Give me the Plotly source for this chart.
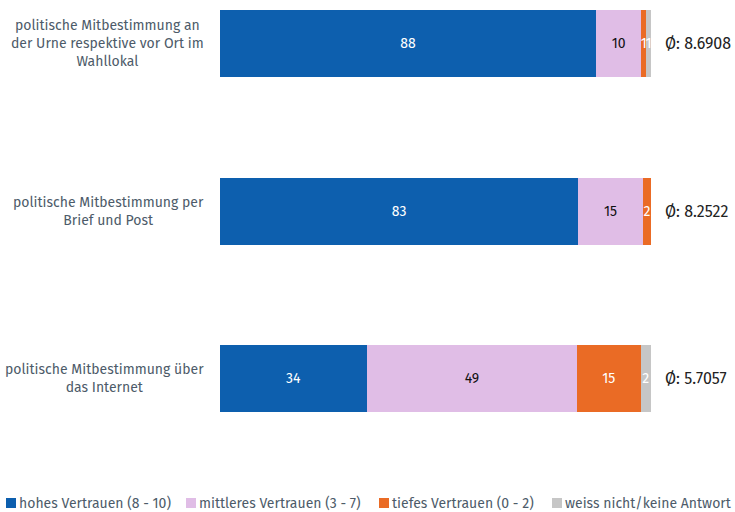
import plotly.graph_objects as go

categories = [
    "politische Mitbestimmung an<br>der Urne respektive vor Ort im<br>Wahllokal",
    "politische Mitbestimmung per<br>Brief und Post",
    "politische Mitbestimmung über<br>das Internet",
]
series_names = ["hohes Vertrauen (8 - 10)", "mittleres Vertrauen (3 - 7)",
                "tiefes Vertrauen (0 - 2)", "weiss nicht/keine Antwort"]
hohes = [87.3, 83.1, 34.1]
mittleres = [10.4, 15.0, 48.7]
tiefes = [1.2, 1.9, 14.8]
weiss = [1.1, 0.0, 2.4]
labels_hohes = ["88", "83", "34"]
labels_mittleres = ["10", "15", "49"]
labels_tiefes = ["1", "2", "15"]
labels_weiss = ["1", "", "2"]
averages = ["Ø: 8.6908", "Ø: 8.2522", "Ø: 5.7057"]

colors = ["#0d5fae", "#e0bde6", "#ea6b25", "#c6c6c6"]
text_colors = ["white", "#111111", "white", "white"]
values = [hohes, mittleres, tiefes, weiss]
labels = [labels_hohes, labels_mittleres, labels_tiefes, labels_weiss]

FONT = "Fira Sans, Noto Sans, sans-serif"
ypos = [0, 1, 2]

W, H = 735, 512
ML, MR, MT, MB = 220, 84, 0, 62
PW, PH = W - ML - MR, H - MT - MB


def px_x(px):
    return (px - ML) / PW


def px_y(py):
    return (PH - (py - MT)) / PH


fig = go.Figure()
for name, vals, labs, col, tc in zip(series_names, values, labels, colors, text_colors):
    fig.add_trace(go.Bar(
        y=ypos, x=vals, name=name, orientation="h",
        marker=dict(color=col, line=dict(width=0)),
        text=labs, textposition="inside", insidetextanchor="middle",
        constraintext="none", textangle=0,
        textfont=dict(color=tc, size=14, family=FONT),
        width=0.4, hoverinfo="skip", showlegend=False,
    ))

annotations = []
for i, c in enumerate(categories):
    annotations.append(dict(
        x=px_x(206), y=ypos[i], xref="paper", yref="y", text=c, showarrow=False,
        xanchor="right", yanchor="middle", align="center",
        font=dict(size=14, color="#4d5b69", family=FONT)))
    annotations.append(dict(
        x=px_x(663), y=ypos[i], xref="paper", yref="y", text=averages[i], showarrow=False,
        xanchor="left", yanchor="middle", align="left",
        font=dict(size=16, color="#222222", family=FONT)))

# legend: colour squares + labels along the bottom
legend_sq_px = [6, 186, 379, 552]
shapes = []
for name, col, px in zip(series_names, colors, legend_sq_px):
    shapes.append(dict(type="rect", xref="paper", yref="paper",
                       x0=px_x(px), x1=px_x(px + 10), y0=px_y(508), y1=px_y(498),
                       fillcolor=col, line=dict(width=0)))
    annotations.append(dict(
        x=px_x(px + 11), y=px_y(503), xref="paper", yref="paper",
        showarrow=False, xanchor="left", yanchor="middle", align="left",
        text=name, font=dict(size=14, color="#4d5b69", family=FONT)))

fig.update_layout(
    width=W, height=H, barmode="stack",
    margin=dict(l=ML, r=MR, t=MT, b=MB),
    plot_bgcolor="white", paper_bgcolor="white",
    xaxis=dict(range=[0, 100], visible=False, fixedrange=True),
    yaxis=dict(range=[2.4269, -0.2597], visible=False, fixedrange=True),
    showlegend=False,
    annotations=annotations, shapes=shapes,
)
fig.write_html("out.html", config={"displayModeBar": False},
               post_script="document.body.style.margin='0';")
